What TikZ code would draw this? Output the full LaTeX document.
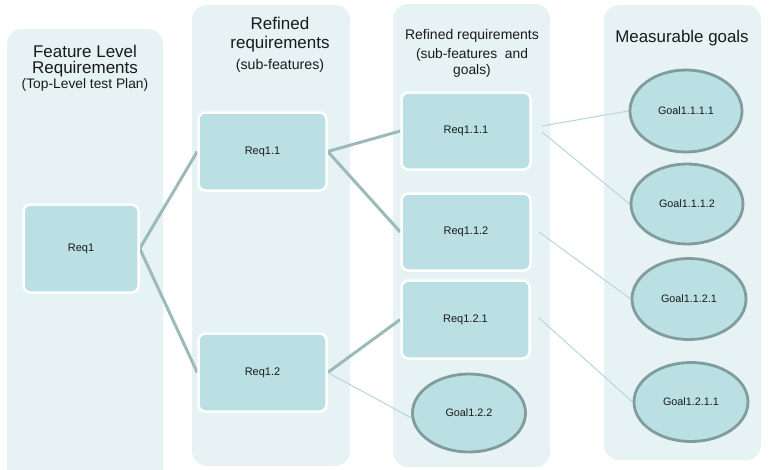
\documentclass[tikz,border=0pt]{standalone}
\usepackage{fontspec}
\setmainfont{Liberation Sans}
\usetikzlibrary{shapes.geometric}
\definecolor{panelc}{HTML}{E6F2F4}
\definecolor{boxc}{HTML}{BBE0E4}
\definecolor{ellb}{HTML}{809C9D}
\definecolor{thickc}{HTML}{9DBABB}
\definecolor{thinc}{HTML}{B7D6D9}
\definecolor{txt}{HTML}{1A1A1A}
\pgfdeclarelayer{panellayer}
\pgfdeclarelayer{edgelayer}
\pgfsetlayers{panellayer,edgelayer,main}
\tikzset{
  panel/.style={fill=panelc, rounded corners=15pt},
  reqbox/.style={rectangle, rounded corners=7pt, fill=boxc, draw=white, line width=2.5pt,
    font=\fontsize{11}{12}\selectfont, text=txt},
  goal/.style={ellipse, fill=boxc, draw=ellb, line width=2.8pt, inner sep=0pt,
    font=\fontsize{10.8}{12}\selectfont, text=txt},
  thick link/.style={draw=thickc, line width=3pt},
  thin link/.style={draw=thinc, line width=1pt},
  title/.style={align=center, text=txt, inner sep=0pt}
}
\begin{document}
\begin{tikzpicture}[x=1pt,y=-1pt]
\useasboundingbox (0,0) rectangle (769,469);
\begin{pgfonlayer}{panellayer}
  \fill[panel] (7,29) rectangle (163,485);
  \fill[panel] (192,5) rectangle (350,466);
  \fill[panel] (393,4) rectangle (550,467);
  \fill[panel] (604,5) rectangle (761,460);
\end{pgfonlayer}
% titles
\node[title, font=\fontsize{17}{16}\selectfont] (t1a) at (85,51) {Feature Level};
\node[title, font=\fontsize{17}{16}\selectfont] (t1c) at (85,69.5) {Requirements};
\node[title, font=\fontsize{13.8}{14}\selectfont] (t1b) at (85,85) {(Top-Level test Plan)};
\node[title, font=\fontsize{17}{19}\selectfont] (t2a) at (280,35) {Refined\\requirements};
\node[title, font=\fontsize{14.2}{14}\selectfont] (t2b) at (280,66) {(sub-features)};
\node[title, font=\fontsize{14}{16}\selectfont] (t3a) at (472,36) {Refined requirements};
\node[title, font=\fontsize{13.8}{16.5}\selectfont] (t3b) at (472,63) {(sub-features\ \ and\\goals)};
\node[title, font=\fontsize{16.9}{18}\selectfont] (t4a) at (682,38) {Measurable goals};
% requirement boxes
\node[reqbox, minimum width=115pt, minimum height=88pt] (R1) at (81,248.5) {Req1};
\node[reqbox, minimum width=128pt, minimum height=78pt] (R11) at (262.5,151.5) {Req1.1};
\node[reqbox, minimum width=128pt, minimum height=78pt] (R12) at (262.5,372.5) {Req1.2};
\node[reqbox, minimum width=129pt, minimum height=77pt] (R111) at (466,131) {Req1.1.1};
\node[reqbox, minimum width=129pt, minimum height=77pt] (R112) at (466,232) {Req1.1.2};
\node[reqbox, minimum width=128pt, minimum height=78pt] (R121) at (465.5,319.5) {Req1.2.1};
% goals
\node[goal, minimum width=112pt, minimum height=82pt] (G1111) at (686,111) {Goal1.1.1.1};
\node[goal, minimum width=112pt, minimum height=80pt] (G1112) at (687,204) {Goal1.1.1.2};
\node[goal, minimum width=114pt, minimum height=81pt] (G1121) at (689,299) {Goal1.1.2.1};
\node[goal, minimum width=114pt, minimum height=79pt] (G1211) at (691,402) {Goal1.2.1.1};
\node[goal, minimum width=113pt, minimum height=78pt] (G122) at (469,413) {Goal1.2.2};
% free ends of thin links
\coordinate (s1) at (542,126);
\coordinate (s2) at (542,132);
\coordinate (s3) at (539,232);
\coordinate (s4) at (539,318);
\begin{pgfonlayer}{edgelayer}
  \draw[thick link] (R1.east) -- (R11.west);
  \draw[thick link] (R1.east) -- (R12.west);
  \draw[thick link] (R11.east) -- (R111.west);
  \draw[thick link] (R11.east) -- (R112.west);
  \draw[thick link] (R12.east) -- (R121.west);
  \draw[thin link] (R12.east) -- (G122.185);
  \draw[thin link] (s1) -- (G1111.west);
  \draw[thin link] (s2) -- (G1112.west);
  \draw[thin link] (s3) -- (G1121.west);
  \draw[thin link] (s4) -- (G1211.west);
\end{pgfonlayer}
\end{tikzpicture}
\end{document}
